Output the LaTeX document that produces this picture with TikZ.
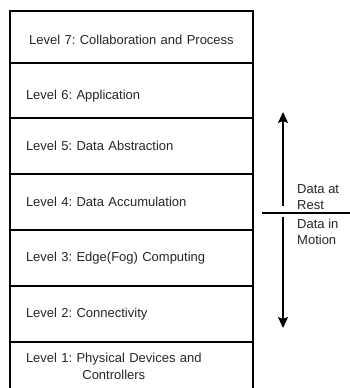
\documentclass[tikz,border=0pt]{standalone}
\usepackage{fontspec}
\setmainfont{Liberation Sans}
\frenchspacing
\usetikzlibrary{positioning,arrows.meta}
\begin{document}
\begin{tikzpicture}
                [x=1pt,y=1pt,node distance=0pt,
                lvl/.style={rectangle,draw,line width=1.6pt,outer sep=0pt,minimum width=243pt,
                    minimum height=56pt,text width=211pt,inner xsep=16pt,align=left,
                    font=\fontsize{13}{17}\selectfont,text=black!85},
                side/.style={align=left,inner sep=0pt,font=\fontsize{13}{15.5}\selectfont,text=black!85},
                flow/.style={line width=1.5pt,-{Stealth[length=11pt,width=10pt,inset=2pt]}}]
                \useasboundingbox (0,0) rectangle (350,388);
                \clip (0,0) rectangle (350,388);
                \node[lvl,minimum height=52pt,align=center,text height=15pt,anchor=north west] (l7) at (10,377) {Level 7: Collaboration and Process};
                \node[lvl,minimum height=55pt,text height=20pt] (l6)[below=of l7]{Level 6: Application};
                \node[lvl] (l5)[below=of l6]{Level 5: Data Abstraction};
                \node[lvl] (l4)[below=of l5]{Level 4: Data Accumulation};
                \node[lvl] (l3)[below=of l4]{Level 3: Edge(Fog) Computing};
                \node[lvl] (l2)[below=of l3]{Level 2: Connectivity};
                \node[lvl,minimum height=52pt] (l1)[below=of l2]{\begin{tabular}{@{}c@{}}Level 1: Physical Devices and\\Controllers\end{tabular}};
                % data at rest / in motion
                \coordinate (upfoot) at (283,182);
                \coordinate (uptip) at (283,276);
                \coordinate (downfoot) at (283,171);
                \coordinate (downtip) at (283,60);
                \coordinate (divl) at (262,175);
                \coordinate (divr) at (350,175);
                \node[side,anchor=west] (rest) at (297,191) {Data at\\Rest};
                \node[side,anchor=west] (motion) at (297,156) {Data in\\Motion};
                \draw[flow] (upfoot) -- (uptip);
                \draw[flow] (downfoot) -- (downtip);
                \draw[line width=1.2pt] (divl) -- (divr);
            \end{tikzpicture}
\end{document}
